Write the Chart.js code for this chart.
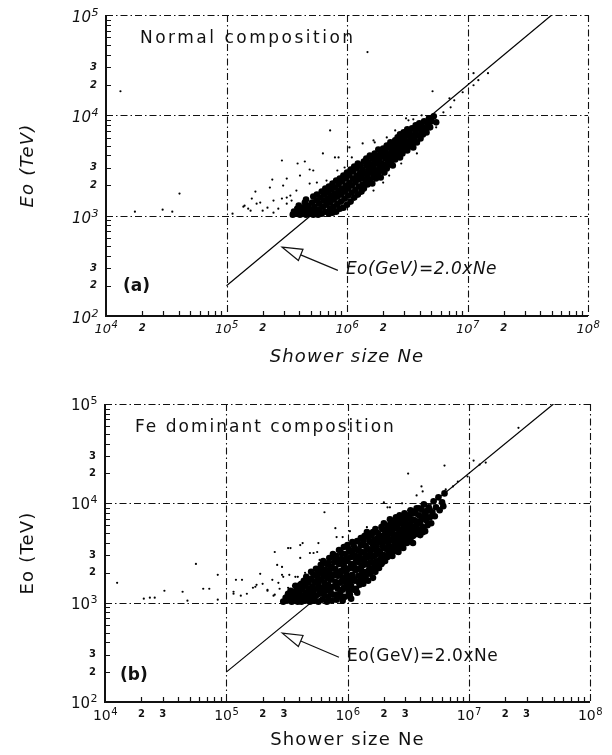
<!DOCTYPE html>
<html>
<head>
<meta charset="utf-8">
<title>Eo vs Shower size Ne</title>
<script src="https://cdn.jsdelivr.net/npm/chart.js@4.4.1/dist/chart.umd.min.js"></script>
<style>
  html, body { margin: 0; padding: 0; background: #fff; }
  canvas { position: absolute; left: 0; }
  #chartA { top: 0; }
  #chartB { top: 378px; }
</style>
</head>
<body>
<canvas id="chartA" width="612" height="378"></canvas>
<canvas id="chartB" width="612" height="377"></canvas>
<script>
// points are [log10 Ne, log10 Eo(TeV)]
// (a) normal composition - dense band
const normalCore = [
  [5.55,3.01],[5.56,3.04],[5.58,3.02],[5.59,3.07],[5.61,3.01],[5.60,3.10],[5.62,3.05],
  [5.63,3.02],[5.64,3.08],[5.65,3.13],[5.66,3.01],[5.67,3.05],[5.68,3.10],[5.66,3.16],[5.69,3.02],
  [5.70,3.06],[5.71,3.13],[5.72,3.19],[5.72,3.01],[5.73,3.09],[5.74,3.04],[5.75,3.15],[5.75,3.21],[5.76,3.01],
  [5.77,3.06],[5.77,3.12],[5.78,3.18],[5.79,3.24],[5.79,3.02],[5.80,3.09],[5.81,3.15],[5.81,3.21],[5.82,3.04],[5.82,3.27],
  [5.83,3.11],[5.84,3.17],[5.84,3.23],[5.85,3.02],[5.85,3.29],[5.86,3.07],[5.86,3.13],[5.87,3.20],[5.87,3.26],[5.88,3.03],[5.88,3.32],
  [5.89,3.09],[5.89,3.16],[5.90,3.22],[5.90,3.28],[5.91,3.35],[5.91,3.04],[5.92,3.12],[5.92,3.19],[5.93,3.25],[5.93,3.31],[5.94,3.07],[5.94,3.37],
  [5.95,3.14],[5.95,3.21],[5.96,3.27],[5.96,3.34],[5.97,3.40],[5.97,3.08],[5.98,3.17],[5.98,3.24],[5.99,3.30],[5.99,3.37],[6.00,3.11],[6.00,3.43],
  [6.01,3.20],[6.01,3.27],[6.02,3.33],[6.02,3.40],[6.03,3.46],[6.03,3.14],[6.04,3.23],[6.04,3.30],[6.05,3.37],[6.05,3.44],[6.06,3.18],[6.06,3.49],
  [6.07,3.26],[6.07,3.33],[6.08,3.40],[6.08,3.47],[6.09,3.21],[6.09,3.52],[6.10,3.29],[6.10,3.36],[6.11,3.43],[6.11,3.50],[6.12,3.24],[6.12,3.39],
  [6.13,3.31],[6.13,3.46],[6.14,3.54],[6.14,3.27],[6.15,3.36],[6.15,3.42],[6.16,3.50],[6.16,3.57],[6.17,3.31],[6.17,3.39],[6.18,3.46],[6.18,3.53],
  [6.19,3.36],[6.19,3.60],[6.20,3.43],[6.20,3.51],[6.21,3.32],[6.21,3.57],[6.22,3.40],[6.22,3.48],[6.23,3.55],[6.23,3.62],[6.24,3.37],[6.24,3.45],
  [6.25,3.52],[6.25,3.59],[6.26,3.41],[6.26,3.66],[6.27,3.48],[6.27,3.55],[6.28,3.38],[6.28,3.62],[6.29,3.45],[6.29,3.52],[6.30,3.59],[6.30,3.67],
  [6.31,3.43],[6.31,3.50],[6.32,3.57],[6.32,3.64],[6.33,3.47],[6.33,3.70],[6.34,3.54],[6.34,3.61],[6.35,3.51],[6.35,3.68],[6.36,3.58],[6.36,3.73],
  [6.37,3.55],[6.37,3.63],[6.38,3.70],[6.38,3.50],[6.39,3.59],[6.39,3.66],[6.40,3.75],[6.40,3.56],[6.41,3.63],[6.41,3.71],[6.42,3.60],[6.42,3.78],
  [6.43,3.67],[6.43,3.74],[6.44,3.58],[6.44,3.81],[6.45,3.64],[6.45,3.71],[6.46,3.77],[6.46,3.62],[6.47,3.69],[6.47,3.83],[6.48,3.66],[6.48,3.75],
  [6.49,3.71],[6.49,3.80],[6.50,3.65],[6.50,3.86],[6.51,3.74],[6.52,3.69],[6.52,3.82],[6.53,3.77],[6.54,3.72],[6.54,3.87],[6.55,3.80],[6.55,3.68],
  [6.56,3.75],[6.57,3.84],[6.57,3.90],[6.58,3.73],[6.59,3.80],[6.60,3.87],[6.60,3.92],[6.61,3.77],[6.62,3.84],[6.62,3.90],
  [6.63,3.81],[6.64,3.94],[6.65,3.87],[6.66,3.83],[6.67,3.92],[6.68,3.97],[6.69,3.88],[6.70,3.94],[6.72,3.99],[6.74,3.93]
];
// (a) scattered events
const normalSparse = [
  [4.12,4.24],[4.24,3.04],[4.47,3.06],[4.55,3.04],[4.61,3.22],
  [5.05,3.02],[5.14,3.09],[5.15,3.10],[5.18,3.07],[5.20,3.05],[5.21,3.17],[5.24,3.24],[5.25,3.12],[5.28,3.13],
  [5.30,3.05],[5.34,3.08],[5.36,3.28],[5.38,3.36],[5.39,3.15],[5.39,3.03],[5.43,3.07],[5.46,3.17],[5.46,3.55],
  [5.47,3.30],[5.50,3.37],[5.50,3.18],[5.50,3.12],[5.53,3.20],[5.54,3.15],[5.55,3.05],[5.57,3.08],[5.58,3.25],
  [5.59,3.52],[5.61,3.40],[5.61,3.10],[5.65,3.54],[5.69,3.46],[5.69,3.32],[5.72,3.45],[5.75,3.33],[5.80,3.62],
  [5.83,3.35],[5.86,3.85],[5.90,3.58],[5.92,3.45],[5.93,3.58],[5.98,3.48],[6.02,3.68],[6.04,3.58],[6.13,3.72],
  [6.17,4.63],[6.22,3.75],[6.22,3.25],[6.23,3.73],[6.30,3.33],[6.33,3.78],[6.35,3.40],[6.40,3.85],[6.45,3.52],
  [6.46,3.83],[6.49,3.97],[6.51,3.95],[6.55,3.96],[6.58,3.62],[6.62,4.00],[6.70,3.90],[6.71,4.24],[6.74,3.88],
  [6.80,4.03],[6.85,4.17],[6.86,4.08],[6.89,4.15],[6.96,4.23],[7.05,4.42],[7.05,4.30],[7.09,4.35],[7.17,4.42]
];
// (b) Fe dominant composition - dense band
const feCore = [
  [5.47,3.01],[5.49,3.05],[5.50,3.02],[5.51,3.09],[5.52,3.04],[5.53,3.12],[5.54,3.01],[5.55,3.07],
  [5.56,3.03],[5.57,3.11],[5.57,3.17],[5.58,3.06],[5.59,3.01],[5.60,3.14],[5.60,3.09],[5.61,3.04],[5.62,3.19],[5.62,3.01],
  [5.63,3.07],[5.63,3.13],[5.64,3.22],[5.65,3.02],[5.65,3.17],[5.66,3.10],[5.66,3.26],[5.67,3.05],[5.68,3.14],[5.68,3.20],[5.69,3.01],[5.69,3.09],
  [5.70,3.24],[5.70,3.31],[5.71,3.04],[5.71,3.16],[5.72,3.11],[5.72,3.28],[5.73,3.02],[5.73,3.21],[5.74,3.07],[5.74,3.34],[5.75,3.14],[5.75,3.26],[5.76,3.01],[5.76,3.19],
  [5.77,3.09],[5.77,3.31],[5.78,3.23],[5.78,3.38],[5.79,3.03],[5.79,3.15],[5.80,3.27],[5.80,3.42],[5.81,3.07],[5.81,3.20],[5.82,3.33],[5.82,3.12],[5.83,3.01],[5.83,3.25],[5.83,3.39],
  [5.84,3.06],[5.84,3.18],[5.85,3.30],[5.85,3.45],[5.86,3.11],[5.86,3.23],[5.87,3.36],[5.87,3.02],[5.88,3.16],[5.88,3.49],[5.89,3.28],[5.89,3.41],[5.90,3.08],[5.90,3.21],[5.90,3.34],
  [5.91,3.03],[5.91,3.47],[5.92,3.14],[5.92,3.27],[5.93,3.39],[5.93,3.53],[5.94,3.09],[5.94,3.20],[5.95,3.32],[5.95,3.44],[5.96,3.02],[5.96,3.25],[5.97,3.15],[5.97,3.37],[5.97,3.56],
  [5.98,3.06],[5.98,3.49],[5.99,3.19],[5.99,3.30],[6.00,3.42],[6.00,3.58],[6.01,3.11],[6.01,3.24],[6.02,3.35],[6.02,3.52],[6.03,3.04],[6.03,3.17],[6.03,3.46],[6.04,3.28],[6.04,3.61],
  [6.05,3.13],[6.05,3.39],[6.06,3.22],[6.06,3.55],[6.07,3.33],[6.07,3.47],[6.08,3.10],[6.08,3.62],[6.09,3.27],[6.09,3.41],[6.10,3.18],[6.10,3.52],[6.11,3.35],[6.11,3.65],[6.11,3.24],
  [6.12,3.44],[6.12,3.58],[6.13,3.19],[6.13,3.31],[6.14,3.50],[6.14,3.67],[6.15,3.26],[6.15,3.39],[6.16,3.55],[6.16,3.71],[6.17,3.22],[6.17,3.46],[6.18,3.34],[6.18,3.62],
  [6.19,3.29],[6.19,3.51],[6.20,3.41],[6.20,3.68],[6.21,3.25],[6.21,3.58],[6.22,3.36],[6.22,3.47],[6.23,3.74],[6.23,3.31],[6.24,3.55],[6.24,3.64],[6.25,3.42],[6.25,3.70],
  [6.26,3.35],[6.26,3.52],[6.27,3.61],[6.27,3.44],[6.28,3.76],[6.28,3.39],[6.29,3.57],[6.29,3.67],[6.30,3.48],[6.30,3.80],[6.31,3.42],[6.31,3.62],[6.32,3.54],[6.32,3.72],
  [6.33,3.46],[6.33,3.66],[6.34,3.58],[6.34,3.78],[6.35,3.50],[6.35,3.84],[6.36,3.63],[6.36,3.72],[6.37,3.47],[6.37,3.56],[6.38,3.69],[6.38,3.81],[6.39,3.60],[6.39,3.52],[6.40,3.75],[6.40,3.86],
  [6.41,3.57],[6.41,3.68],[6.42,3.80],[6.42,3.51],[6.43,3.63],[6.43,3.88],[6.44,3.73],[6.44,3.59],[6.45,3.84],[6.45,3.66],[6.46,3.55],[6.46,3.78],[6.47,3.70],[6.47,3.90],[6.48,3.62],[6.48,3.82],
  [6.49,3.74],[6.49,3.60],[6.50,3.87],[6.50,3.68],[6.51,3.79],[6.52,3.65],[6.52,3.93],[6.53,3.72],[6.53,3.84],[6.54,3.60],[6.55,3.77],[6.55,3.90],[6.56,3.69],[6.57,3.82],[6.57,3.95],
  [6.58,3.74],[6.59,3.88],[6.60,3.68],[6.60,3.80],[6.61,3.94],[6.62,3.76],[6.63,3.86],[6.63,3.99],[6.64,3.72],[6.65,3.83],[6.65,3.92],[6.66,3.78],
  [6.67,3.96],[6.68,3.86],[6.69,3.80],[6.70,3.91],[6.71,4.02],[6.72,3.87],[6.73,3.96],[6.75,4.06],[6.76,3.93],[6.78,4.01],[6.80,4.10],[6.79,3.97],
  // heart of the band, where events overlap
  [5.58,3.13],[5.61,3.18],[5.64,3.04],[5.67,3.23],[5.70,3.12],[5.72,3.06],[5.74,3.20],[5.76,3.30],[5.78,3.10],[5.79,3.34],
  [5.81,3.29],[5.82,3.17],[5.84,3.40],[5.85,3.13],[5.86,3.34],[5.87,3.26],[5.88,3.08],[5.89,3.46],[5.91,3.18],[5.91,3.31],
  [5.92,3.42],[5.93,3.06],[5.94,3.28],[5.95,3.50],[5.96,3.13],[5.96,3.40],[5.97,3.22],[5.98,3.33],[5.99,3.44],[6.00,3.15],
  [6.00,3.27],[6.01,3.54],[6.02,3.08],[6.02,3.21],[6.03,3.39],[6.04,3.50],[6.05,3.24],[6.05,3.58],[6.06,3.34],[6.07,3.14],
  [6.07,3.42],[6.08,3.53],[6.09,3.21],[6.09,3.34],[6.10,3.46],[6.11,3.58],[6.12,3.29],[6.12,3.51],[6.13,3.38],[6.13,3.62],
  [6.14,3.24],[6.14,3.44],[6.15,3.57],[6.16,3.31],[6.16,3.47],[6.17,3.66],[6.18,3.40],[6.18,3.53],[6.19,3.61],[6.20,3.33],
  [6.20,3.47],[6.21,3.71],[6.22,3.54],[6.22,3.63],[6.23,3.41],[6.24,3.49],[6.25,3.36],[6.25,3.60],[6.26,3.68],[6.27,3.50],
  [6.28,3.45],[6.28,3.66],[6.29,3.41],[6.29,3.74],[6.30,3.55],[6.31,3.69],[6.32,3.47],[6.33,3.61],[6.33,3.76],[6.34,3.52],
  [6.35,3.70],[6.36,3.55],[6.36,3.80],[6.37,3.64],[6.38,3.75],[6.39,3.57],[6.40,3.67],[6.40,3.81],[6.41,3.62],[6.42,3.74],
  [6.43,3.56],[6.43,3.69],[6.44,3.82],[6.45,3.61],[6.46,3.71],[6.46,3.86],[6.47,3.64],[6.48,3.76],[6.49,3.88],[6.50,3.73],
  [6.51,3.64],[6.51,3.85],[6.52,3.78],[6.53,3.90],[6.54,3.67],[6.55,3.83],[6.56,3.74],[6.56,3.92],[6.58,3.80],[6.59,3.69],
  [6.59,3.95],[6.61,3.84],[6.62,3.71],[6.64,3.90],[6.66,3.86],[6.68,3.93]
];
// (b) scattered events
const feSparse = [
  [4.10,3.20],[4.32,3.04],[4.37,3.05],[4.41,3.05],[4.49,3.12],[4.64,3.11],[4.68,3.02],[4.75,3.39],[4.81,3.14],
  [4.86,3.14],[4.93,3.28],[4.93,3.03],[5.06,3.09],[5.06,3.11],[5.08,3.23],[5.12,3.07],[5.13,3.23],[5.17,3.09],
  [5.22,3.15],[5.24,3.16],[5.25,3.18],[5.28,3.29],[5.30,3.19],[5.34,3.12],[5.34,3.13],[5.38,3.23],[5.39,3.07],
  [5.40,3.51],[5.40,3.08],[5.42,3.38],[5.43,3.20],[5.44,3.14],[5.46,3.28],[5.46,3.36],[5.47,3.26],[5.49,3.08],
  [5.51,3.55],[5.51,3.15],[5.52,3.28],[5.53,3.55],[5.55,3.17],[5.57,3.26],[5.59,3.26],[5.61,3.58],[5.61,3.45],
  [5.63,3.60],[5.65,3.30],[5.69,3.50],[5.72,3.50],[5.75,3.51],[5.76,3.60],[5.77,3.43],[5.81,3.91],[5.90,3.75],
  [5.91,3.66],[5.96,3.66],[6.02,3.72],[6.08,3.63],[6.16,3.76],[6.30,4.01],[6.33,3.96],[6.35,3.96],[6.45,4.00],
  [6.50,4.30],[6.50,3.93],[6.57,4.08],[6.61,4.17],[6.62,4.12],[6.71,4.03],[6.76,3.94],[6.80,4.38],[6.81,4.14],
  [6.87,4.17],[6.91,4.22],[6.99,4.27],[7.04,4.43],[7.09,4.39],[7.14,4.41],[7.41,4.76]
];

// Eo(GeV) = 2.0 x Ne, in TeV
const lineNe = [1e5, 5e7];
const lineEo = [200, 1e5];

const neDecades = [1e4, 1e5, 1e6, 1e7, 1e8];
const eoDecades = [1e2, 1e3, 1e4, 1e5];
const neMinorLabelsA = [2];
const neMinorLabelsB = [2, 3];
const eoMinorLabels = [2, 3];

const INK = '#111';
const FONT = '"DejaVu Sans"';

const toXY = pts => pts.map(([a, b]) => ({ x: Math.pow(10, a), y: Math.pow(10, b) }));

function pow10Label(ctx, exp, x, y, o) {
  ctx.font = o.base; const wb = ctx.measureText('10').width;
  ctx.font = o.sup; const we = ctx.measureText(String(exp)).width;
  const left = o.align === 'right' ? x - wb - we : x - (wb + we) / 2;
  ctx.textAlign = 'left';
  ctx.textBaseline = 'middle';
  ctx.font = o.base; ctx.fillText('10', left, y + o.baseDy);
  ctx.font = o.sup; ctx.fillText(String(exp), left + wb + 0.5, y + o.supDy);
}

function spacedText(ctx, txt, x, y, font, spacing, align) {
  ctx.font = font;
  ctx.letterSpacing = spacing || '0px';
  ctx.textAlign = align || 'left';
  ctx.textBaseline = 'middle';
  ctx.fillText(txt, x, y);
  ctx.letterSpacing = '0px';
}

// frame, dash-dot decade grid, inward ticks and all the text
const framePlugin = {
  id: 'frame',
  beforeDatasetsDraw(chart) {
    const { ctx, chartArea: a, scales: { x, y } } = chart;
    ctx.save();
    ctx.strokeStyle = INK;
    ctx.lineWidth = 1.1;
    ctx.setLineDash([7, 3, 1.5, 3]);
    ctx.beginPath();
    neDecades.slice(1).forEach(v => {
      const px = Math.round(x.getPixelForValue(v)) + 0.5;
      ctx.moveTo(px, a.top); ctx.lineTo(px, a.bottom);
    });
    eoDecades.slice(1).forEach(v => {
      const py = Math.round(y.getPixelForValue(v)) + 0.5;
      ctx.moveTo(a.left, py); ctx.lineTo(a.right, py);
    });
    ctx.stroke();
    ctx.setLineDash([]);

    // solid left and bottom axes
    ctx.lineWidth = 2;
    ctx.beginPath();
    ctx.moveTo(a.left, a.top); ctx.lineTo(a.left, a.bottom); ctx.lineTo(a.right, a.bottom);
    ctx.stroke();

    // minor ticks pointing into the plot
    ctx.lineWidth = 1.2;
    ctx.beginPath();
    for (let d = 0; d < neDecades.length - 1; d++) {
      for (let m = 2; m <= 9; m++) {
        const px = Math.round(x.getPixelForValue(m * neDecades[d])) + 0.5;
        ctx.moveTo(px, a.bottom); ctx.lineTo(px, a.bottom - 5);
      }
    }
    for (let d = 0; d < eoDecades.length - 1; d++) {
      for (let m = 2; m <= 9; m++) {
        const py = Math.round(y.getPixelForValue(m * eoDecades[d])) + 0.5;
        ctx.moveTo(a.left, py); ctx.lineTo(a.left + 5, py);
      }
    }
    ctx.stroke();
    ctx.restore();
  },
  afterDraw(chart, args, o) {
    const { ctx, chartArea: a, scales: { x, y } } = chart;
    const sl = o.slant;
    ctx.save();
    ctx.fillStyle = INK;
    ctx.strokeStyle = INK;

    // decade labels
    neDecades.forEach(v => pow10Label(ctx, Math.round(Math.log10(v)), x.getPixelForValue(v), a.bottom, {
      base: sl + o.xBase + 'px ' + FONT, sup: sl + o.xSup + 'px ' + FONT, align: 'center', baseDy: 14, supDy: o.xSupDy
    }));
    eoDecades.forEach(v => pow10Label(ctx, Math.round(Math.log10(v)), a.left - 8, y.getPixelForValue(v), {
      base: sl + '15px ' + FONT, sup: sl + '11px ' + FONT, align: 'right', baseDy: o.yBaseDy, supDy: o.yBaseDy - 5
    }));

    // labelled minor ticks
    ctx.font = sl + 'bold 10px ' + FONT;
    ctx.textBaseline = 'middle';
    ctx.textAlign = 'center';
    for (let d = 0; d < neDecades.length - 1; d++) {
      o.neMinor.forEach(m => ctx.fillText(String(m), x.getPixelForValue(m * neDecades[d]), a.bottom + 12));
    }
    ctx.textAlign = 'right';
    for (let d = 0; d < eoDecades.length - 1; d++) {
      eoMinorLabels.forEach(m => ctx.fillText(String(m), a.left - 9, y.getPixelForValue(m * eoDecades[d])));
    }

    // axis titles
    spacedText(ctx, 'Shower size Ne', (a.left + a.right) / 2, o.xTitleY, sl + '18px ' + FONT, '1.2px', 'center');
    ctx.save();
    ctx.translate(28, (a.top + a.bottom) / 2);
    ctx.rotate(-Math.PI / 2);
    spacedText(ctx, 'Eo (TeV)', 0, 0, sl + '18px ' + FONT, '1.2px', 'center');
    ctx.restore();

    // panel caption and tag
    spacedText(ctx, o.caption, o.captionAt[0], o.captionAt[1], '17px ' + FONT, o.captionSpacing);
    spacedText(ctx, o.tag, o.tagAt[0], o.tagAt[1], 'bold 17px ' + FONT, '0px');

    // arrow pointing at the Eo = 2.0 Ne line
    const tx = x.getPixelForValue(o.arrowTip[0]), ty = y.getPixelForValue(o.arrowTip[1]);
    const ex = x.getPixelForValue(o.arrowTail[0]), ey = y.getPixelForValue(o.arrowTail[1]);
    const len = Math.hypot(tx - ex, ty - ey);
    const ux = (tx - ex) / len, uy = (ty - ey) / len;
    const bx = tx - ux * 20, by = ty - uy * 20;
    ctx.lineWidth = 1.2;
    ctx.beginPath();
    ctx.moveTo(ex, ey); ctx.lineTo(bx, by);
    ctx.moveTo(tx, ty);
    ctx.lineTo(bx - uy * 6, by + ux * 6);
    ctx.lineTo(bx + uy * 6, by - ux * 6);
    ctx.closePath();
    ctx.stroke();
    spacedText(ctx, 'Eo(GeV)=2.0xNe', ex + 8, ey - 1, sl + '17px ' + FONT, '0.5px');

    ctx.restore();
  }
};

function makePanel(id, core, sparse, pad, opts) {
  return new Chart(document.getElementById(id), {
    type: 'scatter',
    data: {
      datasets: [
        {
          data: toXY(core),
          backgroundColor: '#000',
          pointRadius: 3.3,
          pointBorderWidth: 0
        },
        {
          data: toXY(sparse),
          backgroundColor: '#000',
          pointRadius: 1.1,
          pointBorderWidth: 0
        },
        {
          data: lineNe.map((v, i) => ({ x: v, y: lineEo[i] })),
          showLine: true,
          borderColor: '#000',
          borderWidth: 1.2,
          pointRadius: 0,
          fill: false
        }
      ]
    },
    options: {
      responsive: false,
      animation: false,
      devicePixelRatio: 1,
      layout: { padding: pad },
      scales: {
        x: { type: 'logarithmic', min: 1e4, max: 1e8, display: false },
        y: { type: 'logarithmic', min: 1e2, max: 1e5, display: false }
      },
      plugins: {
        legend: { display: false },
        tooltip: { enabled: false },
        frame: opts
      }
    },
    plugins: [framePlugin]
  });
}

makePanel('chartA', normalCore, normalSparse, { left: 106, top: 15, right: 24, bottom: 62 }, {
  slant: 'italic ',
  xBase: 13, xSup: 10, xSupDy: 9, yBaseDy: 3,
  neMinor: neMinorLabelsA,
  xTitleY: 357,
  caption: 'Normal composition', captionAt: [140, 39], captionSpacing: '2.5px',
  tag: '(a)', tagAt: [123, 287],
  arrowTip: [2.9e5, 485], arrowTail: [8.4e5, 285]
});

makePanel('chartB', feCore, feSparse, { left: 105, top: 26, right: 22, bottom: 53 }, {
  slant: '',
  xBase: 14, xSup: 10, xSupDy: 10, yBaseDy: 2,
  neMinor: neMinorLabelsB,
  xTitleY: 362,
  caption: 'Fe dominant composition', captionAt: [135, 50], captionSpacing: '2px',
  tag: '(b)', tagAt: [120, 298],
  arrowTip: [2.9e5, 494], arrowTail: [8.5e5, 282]
});
</script>
</body>
</html>
